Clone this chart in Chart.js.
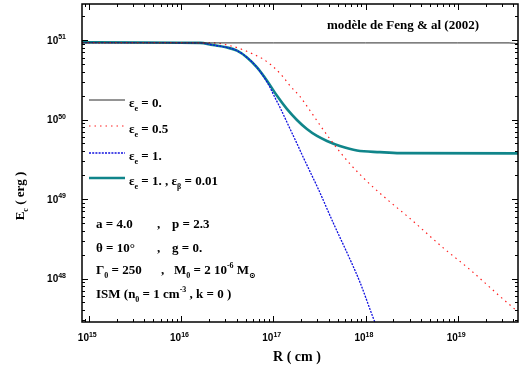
<!DOCTYPE html>
<html>
<head>
<meta charset="utf-8">
<script src="https://cdn.jsdelivr.net/npm/chart.js@4/dist/chart.umd.min.js"></script>
<style>
  html, body { margin:0; padding:0; background:#fff; }
  canvas { display:block; }
</style>
</head>
<body>
<canvas id="c" width="519" height="376"></canvas>
<script>
'use strict';
// ── Data (R in cm, E in erg) ──────────────────────────────
const R_EPS0  = [8.4e14, 1e16, 1e17, 1e18, 1e19, 3.6e19, 4.5e19];
const E_EPS0  = [9.2e50, 9.2e50, 9.2e50, 9.2e50, 9.2e50, 9.2e50, 9.0e50];

const R_EPS05 = [8.4e14, 2.2e16, 3.38e16, 4.68e16, 6.0e16, 7.7e16, 9.66e16, 1.24e17, 1.51e17, 1.94e17, 2.49e17, 3.2e17, 4.11e17, 5.27e17, 6.77e17, 8.69e17, 1.12e18, 1.71e18, 3.0e18, 6.9e18, 1.35e19, 2.9e19, 4.5e19];
const E_EPS05 = [9.3e50, 9.2e50, 8.5e50, 7.55e50, 6.67e50, 5.78e50, 4.76e50, 3.57e50, 2.67e50, 1.95e50, 1.30e50, 8.53e49, 5.69e49, 3.91e49, 2.77e49, 2.04e49, 1.53e49, 9.9e48, 5.75e48, 2.45e48, 1.3e48, 5.9e47, 3.8e47];

const R_EPS1  = [8.4e14, 1.6e16, 2.2e16, 3.14e16, 4.03e16, 5.17e16, 6.64e16, 8.73e16, 1.04e17, 1.18e17, 1.51e17, 1.8e17, 2.1e17, 2.49e17, 3.05e17, 4.43e17, 6.77e17, 8.69e17, 1.2e18, 1.3e18];
const E_EPS1  = [9.3e50, 9.2e50, 8.65e50, 8.07e50, 7.35e50, 6.05e50, 4.53e50, 2.83e50, 1.89e50, 1.42e50, 7.7e49, 5.0e49, 3.38e49, 2.23e49, 1.36e49, 5.1e48, 1.75e48, 9.0e47, 3.28e47, 2.6e47];

const R_EPSB  = [8.4e14, 1.6e16, 2.2e16, 3.14e16, 4.03e16, 5.17e16, 6.64e16, 8.53e16, 1.09e17, 1.4e17, 1.8e17, 2.31e17, 2.97e17, 3.81e17, 5.27e17, 8.07e17, 1.43e18, 2.36e18, 4.5e19];
const E_EPSB  = [9.4e50, 9.2e50, 8.65e50, 8.07e50, 7.35e50, 6.05e50, 4.53e50, 3.08e50, 2.0e50, 1.36e50, 9.87e49, 7.6e49, 6.21e49, 5.38e49, 4.65e49, 4.08e49, 3.89e49, 3.78e49, 3.75e49];

const X_DECADES = [15, 16, 17, 18, 19];
const Y_DECADES = [48, 49, 50, 51];

const SERIF = "'Liberation Serif', 'DejaVu Serif', serif";
const SANS  = "'Liberation Sans', Arial, sans-serif";

const pts = (R, E) => R.map((r, i) => ({ x: r, y: E[i] }));

const SERIES = [
  { color:'#2a2a2a', width:1,   dash:[],      data: pts(R_EPS0, E_EPS0) },
  { color:'#ff2020', width:1.2, dash:[1.5,4], data: pts(R_EPS05, E_EPS05) },
  { color:'#1010e0', width:1.3, dash:[2,1.2], data: pts(R_EPS1, E_EPS1) },
  { color:'#10858a', width:2.6, dash:[],      data: pts(R_EPSB, E_EPSB) },
];

// ── Text helpers ──────────────────────────────────────────
// parts: [text, 'n' | 'sub' | 'sup']
function rich(ctx, x, y, parts, size, family) {
  let cx = x;
  for (const [t, mode] of parts) {
    const s = mode === 'n' ? size : Math.round(size * 0.65);
    const dy = mode === 'sub' ? size * 0.3 : mode === 'sup' ? -size * 0.45 : 0;
    ctx.font = `bold ${s}px ${family}`;
    ctx.fillText(t, cx, y + dy);
    cx += ctx.measureText(t).width;
  }
  return cx - x;
}
function richWidth(ctx, parts, size, family) {
  let w = 0;
  for (const [t, mode] of parts) {
    const s = mode === 'n' ? size : Math.round(size * 0.65);
    ctx.font = `bold ${s}px ${family}`;
    w += ctx.measureText(t).width;
  }
  return w;
}

// ── Frame, inward ticks, labels, legend, notes ────────────
const decor = {
  id: 'decor',
  afterDraw(chart) {
    const { ctx, chartArea: a, scales: { x, y } } = chart;
    ctx.save();
    ctx.strokeStyle = '#000';
    ctx.fillStyle = '#000';

    // ticks
    ctx.lineWidth = 1;
    ctx.beginPath();
    for (let d = 14; d <= 19; d++) for (let m = 1; m <= 9; m++) {
      const v = m * Math.pow(10, d);
      if (v < x.min || v > x.max) continue;
      const px = Math.round(x.getPixelForValue(v)) + 0.5;
      const L = m === 1 ? 6 : 3;
      ctx.moveTo(px, a.bottom); ctx.lineTo(px, a.bottom - L);
      ctx.moveTo(px, a.top);    ctx.lineTo(px, a.top + L);
    }
    for (let d = 47; d <= 51; d++) for (let m = 1; m <= 9; m++) {
      const v = m * Math.pow(10, d);
      if (v < y.min || v > y.max) continue;
      const py = Math.round(y.getPixelForValue(v)) + 0.5;
      const L = m === 1 ? 6 : 3;
      ctx.moveTo(a.left, py);  ctx.lineTo(a.left + L, py);
      ctx.moveTo(a.right, py); ctx.lineTo(a.right - L, py);
    }
    ctx.stroke();

    // frame
    ctx.lineWidth = 1.5;
    ctx.strokeRect(a.left, a.top, a.right - a.left, a.bottom - a.top);

    // tick labels
    ctx.textBaseline = 'alphabetic';
    ctx.textAlign = 'left';
    for (const d of X_DECADES) {
      const px = x.getPixelForValue(Math.pow(10, d));
      ctx.font = `bold 10px ${SANS}`;
      const w10 = ctx.measureText('10').width;
      rich(ctx, px - w10, 341, [['10','n'], [String(d),'sup']], 10, SANS);
    }
    for (const d of Y_DECADES) {
      const py = y.getPixelForValue(Math.pow(10, d));
      const parts = [['10','n'], [String(d),'sup']];
      const w = richWidth(ctx, parts, 10, SANS);
      rich(ctx, 66 - w, py + 3.5, parts, 10, SANS);
    }

    // axis titles
    ctx.font = `bold 14px ${SERIF}`;
    ctx.textAlign = 'center';
    ctx.fillText('R ( cm )', 297, 361);
    ctx.save();
    ctx.translate(24, 196);
    ctx.rotate(-Math.PI / 2);
    ctx.textAlign = 'left';
    const yl = [['E','n'], ['c','sub'], [' ( erg )','n']];
    rich(ctx, -richWidth(ctx, yl, 13, SERIF) / 2, 0, yl, 13, SERIF);
    ctx.restore();
    ctx.textAlign = 'left';

    // title
    ctx.font = `bold 13px ${SERIF}`;
    ctx.fillText('modèle de Feng & al (2002)', 327, 29);

    // legend
    const LEG = [
      { s: SERIES[0], y: 100, parts: [['ε','n'], ['e','sub'], [' = 0.','n']] },
      { s: SERIES[1], y: 126, parts: [['ε','n'], ['e','sub'], [' = 0.5','n']] },
      { s: SERIES[2], y: 153, parts: [['ε','n'], ['e','sub'], [' = 1.','n']] },
      { s: SERIES[3], y: 178, parts: [['ε','n'], ['e','sub'], [' = 1. , ε','n'], ['β','sub'], [' = 0.01','n']] },
    ];
    for (const l of LEG) {
      ctx.save();
      ctx.strokeStyle = l.s.color;
      ctx.lineWidth = l.s.width;
      ctx.setLineDash(l.s.dash);
      ctx.beginPath();
      ctx.moveTo(89, l.y); ctx.lineTo(125, l.y);
      ctx.stroke();
      ctx.restore();
      rich(ctx, 129, l.y + 7, l.parts, 13, SERIF);
    }

    // parameter notes
    const S = 13;
    rich(ctx, 96, 228, [['a = 4.0','n']], S, SERIF);
    rich(ctx, 157, 228, [[',','n']], S, SERIF);
    rich(ctx, 172, 228, [['p = 2.3','n']], S, SERIF);
    rich(ctx, 96, 252, [['θ = 10°','n']], S, SERIF);
    rich(ctx, 157, 252, [[',','n']], S, SERIF);
    rich(ctx, 172, 252, [['g = 0.','n']], S, SERIF);
    rich(ctx, 96, 274, [['Γ','n'], ['0','sub'], [' = 250','n']], S, SERIF);
    rich(ctx, 161, 274, [[',','n']], S, SERIF);
    rich(ctx, 174, 274, [['M','n'], ['0','sub'], [' = 2 10','n'], ['-6','sup'], [' M','n'], ['⊙','sub']], S, SERIF);
    rich(ctx, 96, 298, [['ISM (n','n'], ['0','sub'], [' = 1 cm','n'], ['-3','sup'], [' , k = 0 )','n']], S, SERIF);

    ctx.restore();
  }
};

new Chart(document.getElementById('c'), {
  type: 'line',
  data: {
    datasets: SERIES.map(s => ({
      data: s.data,
      borderColor: s.color,
      borderWidth: s.width,
      borderDash: s.dash,
      pointRadius: 0,
      fill: false,
      cubicInterpolationMode: 'monotone',
    }))
  },
  options: {
    responsive: false,
    animation: false,
    devicePixelRatio: 1,
    layout: { padding: { left: 82, top: 4, right: 1, bottom: 54 } },
    plugins: { legend: { display: false }, tooltip: { enabled: false } },
    scales: {
      x: { type: 'logarithmic', min: 8.4e14, max: 4.5e19, display: false },
      y: { type: 'logarithmic', min: 2.84e47, max: 2.84e51, display: false },
    }
  },
  plugins: [decor]
});
</script>
</body>
</html>
